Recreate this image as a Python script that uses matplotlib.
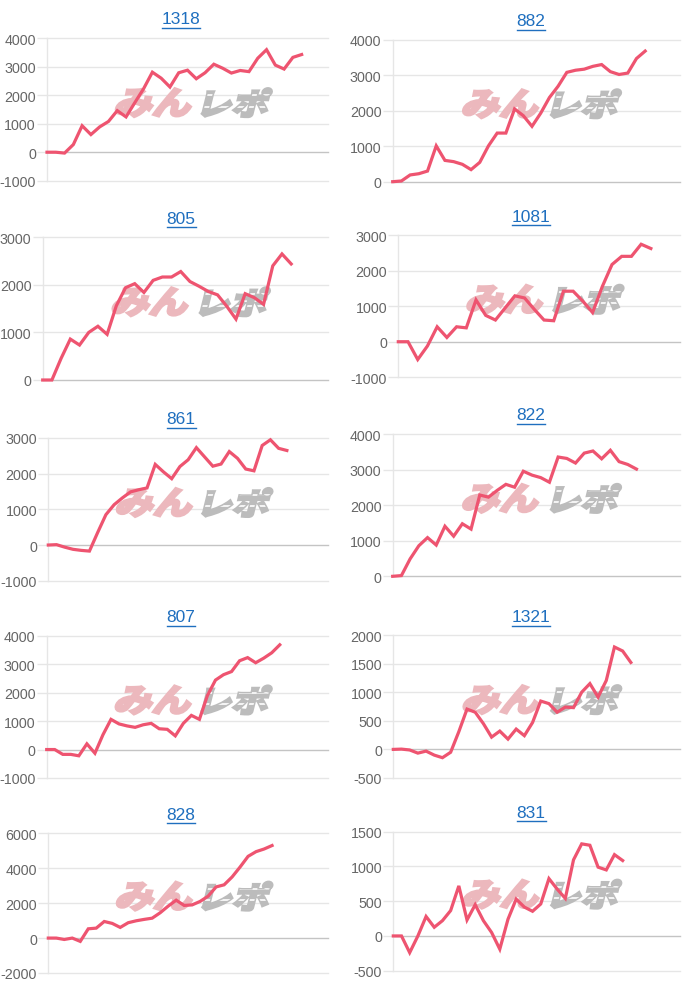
import matplotlib
matplotlib.use("Agg")
import matplotlib.pyplot as plt
import matplotlib.transforms as mtransforms
from matplotlib.textpath import TextPath
from matplotlib.patches import PathPatch
from matplotlib.font_manager import FontProperties

# chart titles and cumulative values
titles = ["1318", "882", "805", "1081", "861", "822", "807", "1321", "828", "831"]

chart_1318 = [0, 0, -30, 270, 930, 620, 890, 1080, 1460, 1240, 1740, 2230, 2810, 2600, 2290,
              2790, 2880, 2580, 2790, 3090, 2950, 2780, 2870, 2830, 3300, 3600, 3060, 2920, 3330, 3430]
chart_882 = [0, 20, 190, 225, 300, 1010, 600, 565, 490, 340, 545, 1010, 1370, 1370, 2050,
             1860, 1560, 1930, 2370, 2690, 3080, 3140, 3170, 3250, 3300, 3100, 3020, 3060, 3470, 3680]
chart_805 = [0, 0, 455, 860, 735, 1000, 1130, 960, 1560, 1940, 2025, 1840, 2095, 2165, 2165,
             2280, 2070, 1970, 1860, 1790, 1550, 1280, 1815, 1730, 1590, 2400, 2650, 2440]
chart_1081 = [0, 0, -500, -120, 420, 120, 420, 390, 1175, 740, 610, 950, 1290, 1230, 910,
              610, 590, 1420, 1420, 1140, 820, 1550, 2170, 2400, 2400, 2740, 2620]
chart_861 = [0, 10, -60, -120, -150, -170, 350, 850, 1130, 1320, 1490, 1550, 1600, 2260, 2050,
             1860, 2200, 2390, 2730, 2470, 2210, 2270, 2620, 2430, 2130, 2080, 2790, 2950, 2710, 2650]
chart_822 = [0, 20, 490, 860, 1090, 880, 1410, 1130, 1480, 1330, 2290, 2230, 2420, 2590, 2510,
             2960, 2850, 2780, 2650, 3360, 3320, 3190, 3470, 3530, 3310, 3550, 3230, 3150, 3020]
chart_807 = [0, 0, -170, -170, -220, 200, -130, 520, 1060, 900, 830, 780, 870, 920, 730,
             710, 480, 920, 1200, 1060, 1900, 2440, 2630, 2740, 3120, 3230, 3050, 3210, 3400, 3680]
chart_1321 = [0, 5, -10, -65, -30, -100, -145, -50, 310, 705, 650, 450, 215, 320, 180,
              355, 240, 470, 845, 800, 650, 740, 730, 1000, 1150, 915, 1205, 1790, 1720, 1520]
chart_828 = [0, 0, -80, 0, -190, 530, 570, 950, 840, 610, 880, 990, 1070, 1140, 1450,
             1830, 2170, 1870, 1900, 2100, 2400, 2930, 3050, 3500, 4070, 4680, 4950, 5100, 5300]
chart_831 = [0, 0, -240, 0, 280, 125, 220, 365, 720, 230, 450, 220, 50, -190, 240,
             530, 415, 355, 460, 825, 675, 540, 1095, 1325, 1305, 990, 950, 1170, 1085]

series = [chart_1318, chart_882, chart_805, chart_1081, chart_861,
          chart_822, chart_807, chart_1321, chart_828, chart_831]

# y axis (min, max, step) and number of x slots per chart
y_ranges = [(-1000, 4000, 1000), (0, 4000, 1000), (0, 3000, 1000), (-1000, 3000, 1000),
            (-1000, 3000, 1000), (0, 4000, 1000), (-1000, 4000, 1000), (-500, 2000, 500),
            (-2000, 6000, 2000), (-500, 1500, 500)]
x_max = [32, 33, 31, 29, 34, 33, 35, 35, 35, 35]

# layout in pixels: left, top, right, bottom of plot area; title y
W, H = 700, 987
boxes = [(47, 39.3, 328, 181.7), (392.7, 40.7, 680, 182.7),
         (42.7, 238.3, 328, 381), (398.3, 236, 680, 378.3),
         (48.3, 439, 328, 581.7), (392.7, 435.3, 680, 577.3),
         (46.7, 636.7, 328, 779), (393.3, 636, 680, 779),
         (48.3, 834.3, 328, 974), (393.3, 832.7, 680, 971.7)]
title_y = [20, 22, 219, 217, 420, 416, 618, 618, 815, 813]

LINE = "#ee5470"
GRID = "#e6e6e6"
ZERO = "#c4c4c4"
TICK = "#666666"
LINK = "#1f6fbf"
WM_PINK = "#ecb8bd"
WM_GRAY = "#bcbcbc"

plt.rcParams['font.family'] = ['Liberation Sans', 'DejaVu Sans']

fig = plt.figure(figsize=(W / 100, H / 100), dpi=100)
fig.patch.set_facecolor("white")

cjk = FontProperties(family="Noto Sans CJK JP", weight="bold")
mi_path = TextPath((0, 0), "みん", size=30, prop=cjk)
re_path = TextPath((0, 0), "レポ", size=30, prop=cjk)


def place_path(ax, path, fx, fy, height, color):
    # slanted, heavy watermark glyphs with lower left corner at axes fraction (fx, fy)
    ext = path.get_extents()
    s = height / ext.height
    bb = ax.get_position()
    px = (bb.x0 + fx * bb.width) * W
    py = (bb.y0 + fy * bb.height) * H
    tr = (mtransforms.Affine2D().translate(-ext.x0, -ext.y0)
          .scale(s * 1.2, s).skew_deg(14, 0).translate(px, py))
    p = PathPatch(path, transform=tr, facecolor=color, edgecolor=color,
                  lw=2.2, joinstyle="miter", zorder=1)
    ax.add_artist(p)
    return p


for i in range(10):
    l, t, r, b = boxes[i]
    ax = fig.add_axes([l / W, 1 - b / H, (r - l) / W, (b - t) / H])
    lo, hi, step = y_ranges[i]
    vals = series[i]
    ax.plot(range(len(vals)), vals, color=LINE, lw=2.3, solid_joinstyle="miter",
            clip_on=False, zorder=3)
    ax.set_xlim(0, x_max[i])
    ax.set_ylim(lo, hi)
    ticks = list(range(lo, hi + 1, step))
    ax.set_yticks(ticks)
    ax.set_yticklabels([str(v) for v in ticks])
    ax.set_xticks([])
    for v in ticks:
        ax.axhline(v, color=ZERO if v == 0 else GRID, lw=1, zorder=0, clip_on=False)
    for side in ["top", "right", "bottom"]:
        ax.spines[side].set_visible(False)
    ax.spines["left"].set_color(GRID)
    ax.spines["left"].set_linewidth(1)
    ax.tick_params(axis="y", length=7, width=1, color=GRID, pad=1,
                   labelsize=10.3, labelcolor=TICK)
    ax.set_facecolor("none")

    place_path(ax, mi_path, 0.24, 0.45, 28, WM_PINK)
    grey = place_path(ax, re_path, 0.55, 0.45, 28, WM_GRAY)
    # speed streaks cut through the grey half of the logo only
    for fy in (0.52, 0.60):
        streak, = ax.plot([0.55, 0.86], [fy, fy], color="white", lw=1.2,
                          transform=ax.transAxes, zorder=2)
        streak.set_clip_path(grey)

    cx = 181 if i % 2 == 0 else 531
    fig.text(cx / W, 1 - title_y[i] / H, titles[i], ha="center", va="center",
             fontsize=12.5, color=LINK)

fig.canvas.draw()
renderer = fig.canvas.get_renderer()
for txt in fig.texts:
    bb = txt.get_window_extent(renderer)
    y = bb.y0 - 1
    fig.add_artist(plt.Line2D([bb.x0 / W, bb.x1 / W], [y / H, y / H],
                              color=LINK, lw=1, transform=fig.transFigure))

fig.savefig("out.png", dpi=100, facecolor="white")
